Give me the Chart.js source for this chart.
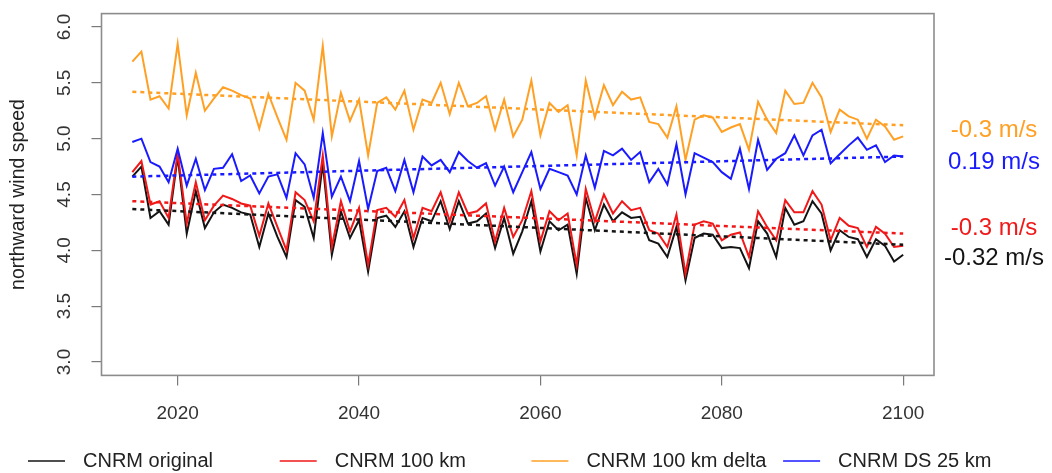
<!DOCTYPE html>
<html>
<head>
<meta charset="utf-8">
<script src="https://cdn.jsdelivr.net/npm/chart.js@4.4.1/dist/chart.umd.min.js"></script>
<style>
  html, body { margin: 0; padding: 0; background: #ffffff; }
  #wrap { width: 1052px; height: 473px; }
</style>
</head>
<body>
<div id="wrap"><canvas id="c" width="1052" height="473"></canvas></div>
<script>
const years = [2015,2016,2017,2018,2019,2020,2021,2022,2023,2024,2025,2026,2027,2028,2029,2030,2031,2032,2033,2034,2035,2036,2037,2038,2039,2040,2041,2042,2043,2044,2045,2046,2047,2048,2049,2050,2051,2052,2053,2054,2055,2056,2057,2058,2059,2060,2061,2062,2063,2064,2065,2066,2067,2068,2069,2070,2071,2072,2073,2074,2075,2076,2077,2078,2079,2080,2081,2082,2083,2084,2085,2086,2087,2088,2089,2090,2091,2092,2093,2094,2095,2096,2097,2098,2099,2100];

const cnrmOriginal = [4.66,4.75,4.29,4.35,4.23,4.84,4.15,4.53,4.20,4.34,4.41,4.38,4.34,4.32,4.03,4.33,4.12,3.94,4.45,4.39,4.11,4.78,3.96,4.35,4.11,4.27,3.81,4.29,4.31,4.21,4.35,4.03,4.29,4.26,4.44,4.19,4.44,4.24,4.26,4.33,4.02,4.29,3.97,4.17,4.44,3.99,4.26,4.18,4.23,3.79,4.47,4.18,4.41,4.26,4.34,4.29,4.30,4.09,4.06,3.94,4.21,3.73,4.11,4.15,4.14,4.02,4.03,4.02,3.84,4.26,4.15,3.94,4.38,4.23,4.26,4.44,4.33,4.00,4.18,4.12,4.10,3.94,4.10,4.04,3.90,3.96];

const cnrm100km = [4.70,4.80,4.41,4.44,4.29,4.87,4.24,4.61,4.27,4.40,4.49,4.46,4.42,4.40,4.13,4.42,4.21,4.00,4.52,4.45,4.26,4.85,4.03,4.44,4.17,4.38,3.87,4.36,4.38,4.30,4.45,4.11,4.38,4.35,4.52,4.26,4.52,4.33,4.35,4.42,4.08,4.38,4.12,4.27,4.53,4.08,4.35,4.27,4.33,3.87,4.55,4.26,4.50,4.33,4.44,4.36,4.38,4.18,4.15,4.03,4.32,3.79,4.23,4.26,4.24,4.09,4.14,4.16,3.94,4.35,4.21,4.09,4.45,4.34,4.34,4.53,4.41,4.09,4.29,4.22,4.20,4.03,4.21,4.15,4.03,4.04];

const cnrm100kmDelta = [5.69,5.78,5.35,5.38,5.27,5.85,5.21,5.59,5.25,5.36,5.46,5.43,5.39,5.36,5.09,5.40,5.19,4.99,5.50,5.43,5.17,5.83,5.02,5.41,5.16,5.35,4.85,5.32,5.37,5.26,5.43,5.08,5.35,5.32,5.50,5.22,5.50,5.29,5.32,5.38,5.08,5.35,5.02,5.17,5.52,5.03,5.32,5.24,5.30,4.85,5.52,5.19,5.48,5.30,5.42,5.35,5.37,5.15,5.13,5.01,5.29,4.81,5.17,5.21,5.19,5.06,5.10,5.13,4.90,5.33,5.17,5.05,5.43,5.31,5.32,5.50,5.37,5.06,5.26,5.20,5.17,5.00,5.17,5.11,4.99,5.02];

const cnrmDS25km = [4.97,5.00,4.79,4.75,4.61,4.91,4.58,4.82,4.54,4.73,4.74,4.86,4.62,4.67,4.51,4.66,4.68,4.47,4.87,4.77,4.47,5.05,4.48,4.66,4.44,4.80,4.37,4.71,4.74,4.53,4.81,4.52,4.84,4.76,4.81,4.70,4.88,4.80,4.74,4.78,4.58,4.75,4.52,4.70,4.88,4.55,4.73,4.70,4.67,4.50,4.85,4.56,4.89,4.85,4.91,4.81,4.88,4.61,4.73,4.59,4.95,4.50,4.87,4.83,4.79,4.70,4.64,4.91,4.55,4.99,4.72,4.82,4.87,5.03,4.85,5.03,5.08,4.78,4.86,4.94,5.01,4.90,4.94,4.79,4.85,4.84];

// Trend line endpoints (2015 and 2100), same order as the series
const seriesNames = ['CNRM original','CNRM 100 km','CNRM 100 km delta','CNRM DS 25 km'];
const seriesColors = ['#141414','#f01818','#ffa024','#1a1aff'];
const trendYears = [2015, 2100];
const trendStart = [4.37, 4.44, 5.42, 4.66];
const trendEnd   = [4.05, 4.15, 5.12, 4.84];

// Right-hand annotations
const trendLabels = ['-0.32 m/s','-0.3 m/s','-0.3 m/s','0.19 m/s'];
const trendLabelAt = [3.93, 4.20, 5.078, 4.792];

const xTicks = [2020, 2040, 2060, 2080, 2100];
const yTicks = [3.0, 3.5, 4.0, 4.5, 5.0, 5.5, 6.0];
const yTitle = 'northward wind speed';

const FONT = '"Liberation Sans", Arial, Helvetica, sans-serif';
Chart.defaults.font.family = FONT;

const seriesValues = [cnrmOriginal, cnrm100km, cnrm100kmDelta, cnrmDS25km];
const datasets = [];
seriesValues.forEach((vals, k) => {
  datasets.push({
    label: seriesNames[k],
    data: years.map((yr, i) => ({x: yr, y: vals[i]})),
    borderColor: seriesColors[k],
    borderWidth: 2,
    pointRadius: 0,
    tension: 0,
    fill: false,
    order: 4 - k
  });
});
seriesValues.forEach((vals, k) => {
  datasets.push({
    label: seriesNames[k] + ' trend',
    data: trendYears.map((yr, j) => ({x: yr, y: j === 0 ? trendStart[k] : trendEnd[k]})),
    borderColor: seriesColors[k],
    borderWidth: 2.5,
    borderDash: [4, 4],
    pointRadius: 0,
    fill: false,
    order: 0
  });
});

const overlay = {
  id: 'overlay',
  afterDraw(chart) {
    const {ctx, chartArea: a, scales: {y}} = chart;
    ctx.save();
    // plot box
    ctx.strokeStyle = '#8c8c8c';
    ctx.lineWidth = 1.6;
    ctx.strokeRect(a.left, a.top, a.right - a.left, a.bottom - a.top);

    // rotated y tick labels
    ctx.fillStyle = '#333333';
    ctx.font = '19px ' + FONT;
    ctx.textAlign = 'center';
    ctx.textBaseline = 'middle';
    yTicks.forEach(v => {
      ctx.save();
      ctx.translate(a.left - 37, y.getPixelForValue(v));
      ctx.rotate(-Math.PI / 2);
      ctx.fillText(v.toFixed(1), 0, 0);
      ctx.restore();
    });

    // y title
    ctx.save();
    ctx.font = '19.5px ' + FONT;
    ctx.fillStyle = '#222222';
    ctx.translate(19, (a.top + a.bottom) / 2);
    ctx.rotate(-Math.PI / 2);
    ctx.fillText(yTitle, 0, 0);
    ctx.restore();

    // right annotations
    ctx.font = '24px ' + FONT;
    ctx.textAlign = 'center';
    trendLabels.forEach((t, k) => {
      ctx.fillStyle = seriesColors[k];
      ctx.fillText(t, a.right + 60, y.getPixelForValue(trendLabelAt[k]));
    });

    // legend
    ctx.font = '20px ' + FONT;
    ctx.textAlign = 'left';
    seriesNames.forEach((n, k) => {
      const x0 = 28 + k * 251.7;
      const yy = 461;
      ctx.strokeStyle = seriesColors[k];
      ctx.lineWidth = 1.6;
      ctx.beginPath();
      ctx.moveTo(x0, yy);
      ctx.lineTo(x0 + 37, yy);
      ctx.stroke();
      ctx.fillStyle = '#222222';
      ctx.fillText(n, x0 + 55, yy);
    });
    ctx.restore();
  }
};

new Chart(document.getElementById('c'), {
  type: 'line',
  data: { datasets },
  options: {
    responsive: false,
    animation: false,
    events: [],
    layout: { padding: { left: 0, right: 118, top: 13.6, bottom: 0 } },
    plugins: { legend: { display: false }, tooltip: { enabled: false } },
    scales: {
      x: {
        type: 'linear',
        min: 2011.6,
        max: 2103.4,
        afterBuildTicks: s => { s.ticks = xTicks.map(v => ({value: v})); },
        afterFit: s => { s.height = 97.6; },
        grid: { drawOnChartArea: false, drawTicks: true, tickLength: 10, color: '#7a7a7a', lineWidth: 1.2 },
        border: { display: false },
        ticks: { font: { size: 19 }, color: '#333333', padding: 17, maxRotation: 0, minRotation: 0,
                 callback: v => String(v) }
      },
      y: {
        type: 'linear',
        min: 2.88,
        max: 6.12,
        afterBuildTicks: s => { s.ticks = yTicks.map(v => ({value: v})); },
        afterFit: s => { s.width = 101.5; },
        grid: { drawOnChartArea: false, drawTicks: true, tickLength: 10, color: '#7a7a7a', lineWidth: 1.2 },
        border: { display: false },
        ticks: { display: false }
      }
    }
  },
  plugins: [overlay]
});
</script>
</body>
</html>
